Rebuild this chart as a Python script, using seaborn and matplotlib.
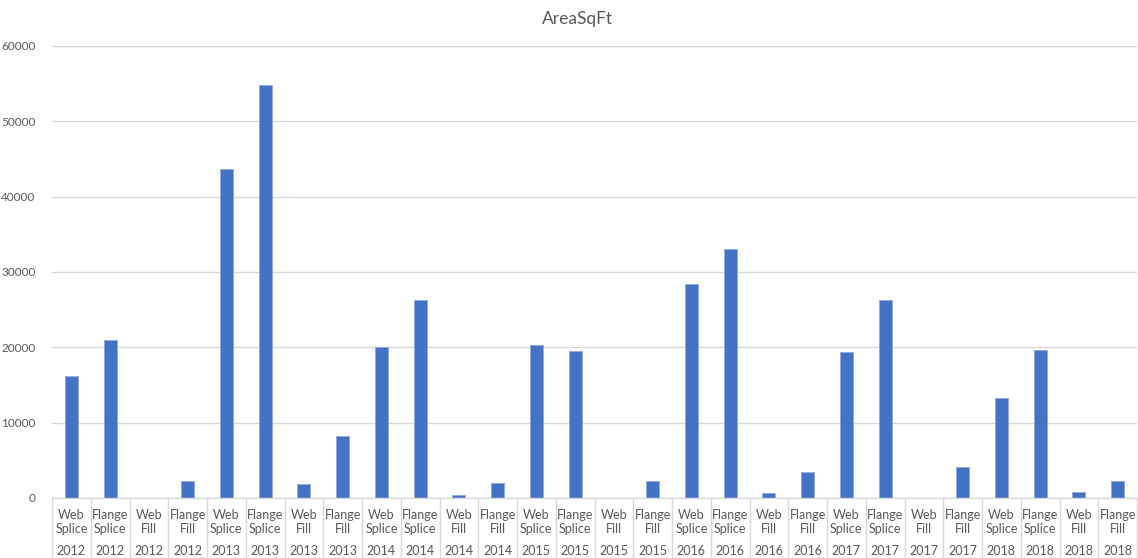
import matplotlib
matplotlib.use("Agg")
import matplotlib.pyplot as plt
import matplotlib.transforms as mtransforms
import seaborn as sns
import pandas as pd

# Joint types and years for each category on the x axis
joint_types = [
    "Web\nSplice", "Flange\nSplice", "Web\nFill", "Flange\nFill",
] * 7
years = [str(y) for y in range(2012, 2019) for _ in range(4)]

# Area in square feet per joint type and year
area_sqft = [
    16200, 21000, 0, 2250,
    43650, 54800, 1860, 8200,
    20050, 26300, 400, 2000,
    20300, 19500, 0, 2250,
    28400, 33100, 620, 3450,
    19350, 26250, 0, 4080,
    13250, 19650, 840, 2300,
]

y_ticks = [0, 10000, 20000, 30000, 40000, 50000, 60000]

BAR = "#4472C4"
GRID = "#D9D9D9"
TEXT = "#595959"
FONT = ["Lato", "DejaVu Sans"]

sns.set_theme(style="white")
plt.rcParams["font.family"] = FONT

df = pd.DataFrame({
    "cat": [f"{j}|{y}" for j, y in zip(joint_types, years)],
    "area": area_sqft,
})

W, H = 1138, 558
fig = plt.figure(figsize=(W / 100, H / 100), dpi=100)
ax = fig.add_axes([52 / W, 60 / H, (1137 - 52) / W, (498 - 46) / H])

sns.barplot(data=df, x="cat", y="area", color=BAR, width=0.33,
            saturation=1, ax=ax, edgecolor="#8EA9DB", linewidth=0.6)

ax.set_ylim(0, 60000)
ax.set_xlim(-0.5, len(area_sqft) - 0.5)
ax.set_yticks(y_ticks)
ax.set_yticklabels([str(v) for v in y_ticks], color=TEXT, fontsize=8.5)
ax.yaxis.grid(True, color=GRID, linewidth=1)
ax.set_axisbelow(True)
ax.tick_params(axis="y", length=0, pad=12)
ax.set_xticks([])
ax.set_xlabel("")
ax.set_ylabel("")
for side in ["top", "right", "left"]:
    ax.spines[side].set_visible(False)
ax.spines["bottom"].set_color(GRID)
ax.spines["bottom"].set_linewidth(1)

# Two-level category labels with cell dividers below the axis
trans = mtransforms.blended_transform_factory(ax.transData, ax.transAxes)
px = 1.0 / (498 - 46)
for i, (jt, yr) in enumerate(zip(joint_types, years)):
    ax.text(i, -(522 - 498) * px, jt, transform=trans, ha="center",
            va="center", fontsize=9, color=TEXT, linespacing=1.25)
    ax.text(i, -(551 - 498) * px, yr, transform=trans, ha="center",
            va="center", fontsize=9, color=TEXT)
for i in range(len(area_sqft) + 1):
    ax.plot([i - 0.5, i - 0.5], [0, -(H - 498) * px], transform=trans,
            color=GRID, linewidth=1, clip_on=False)

fig.text(577 / W, 1 - 19 / H, "AreaSqFt", ha="center", va="center",
         fontsize=12.5, color=TEXT)

fig.savefig("out.png", dpi=100, facecolor="white")
